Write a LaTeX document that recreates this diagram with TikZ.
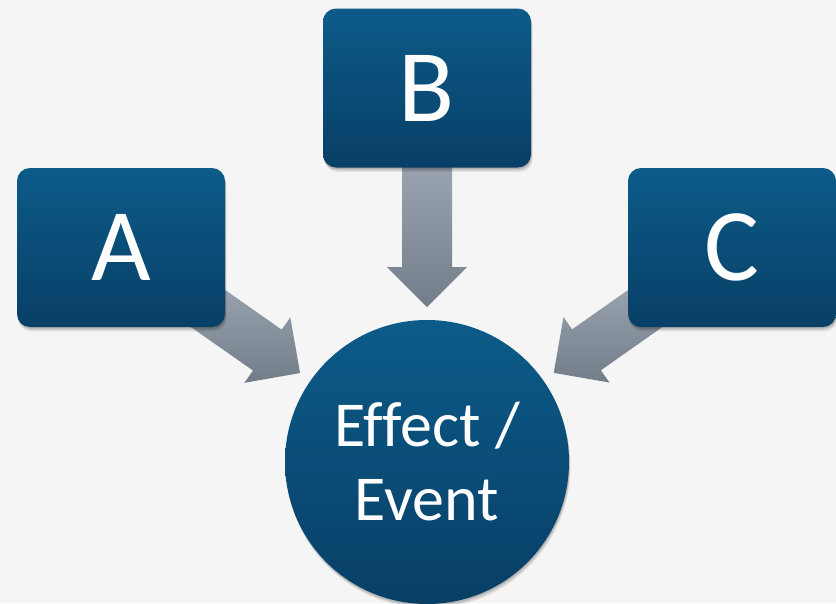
\documentclass[tikz,border=0pt]{standalone}
\usepackage{fontspec}
\setmainfont{Carlito}[Ligatures=NoCommon]
\usetikzlibrary{calc,shadows}
\definecolor{bgcol}{HTML}{F5F5F5}
\definecolor{boxtop}{HTML}{0C5B89}
\definecolor{boxbot}{HTML}{083F66}
\definecolor{arrtop}{HTML}{B0BAC6}
\definecolor{arrbot}{HTML}{737D89}
\pgfdeclarelayer{back}
\pgfsetlayers{back,main}
\tikzset{
  softshadow/.style={
    general shadow={fill=black, opacity=0.07, shadow xshift=1.5pt, shadow yshift=-4.5pt},
    general shadow={fill=black, opacity=0.10, shadow xshift=1pt, shadow yshift=-3pt},
    general shadow={fill=black, opacity=0.12, shadow xshift=0.5pt, shadow yshift=-1.5pt}},
  causebox/.style={rectangle, rounded corners=13pt, minimum width=208pt, minimum height=159pt,
    inner sep=0pt, top color=boxtop, bottom color=boxbot, text=white,
    font=\fontsize{103}{103}\selectfont, softshadow},
  effectcircle/.style={circle, minimum size=284pt, inner sep=0pt,
    top color=boxtop, bottom color=boxbot, softshadow},
  effecttext/.style={text=white, align=center, font=\fontsize{64}{74}\selectfont, inner sep=0pt},
  arrowfill/.style={top color=arrtop, bottom color=arrbot, draw=none}
}
\newcommand\fatarrow[2]{%
  \coordinate (hb) at ($(#2)!40pt!(#1)$);
  \path[arrowfill] ($(#1)!25pt!90:(#2)$) -- ($(hb)!25pt!90:(#2)$) -- ($(hb)!40pt!90:(#2)$)
    -- (#2) -- ($(hb)!40pt!-90:(#2)$) -- ($(hb)!25pt!-90:(#2)$) -- ($(#1)!25pt!-90:(#2)$) -- cycle;}
\begin{document}
\begin{tikzpicture}[x=1pt,y=-1pt]
\begin{pgfonlayer}{back}
  \fill[bgcol] (0,0) rectangle (836,603);
\end{pgfonlayer}
\useasboundingbox (0,0) rectangle (836,603);
\node[causebox] (A) at (121,247.5) {A};
\node[causebox] (B) at (427,88) {B};
\node[causebox] (C) at (732,247.5) {C};
\node[effectcircle] (E) at (427,462) {};
\node[effecttext] (Et) at (427,462) {Effect /\\Event};
\coordinate (tA) at ($(E.center)!155pt!(A.center)$);
\coordinate (tB) at ($(E.center)!155pt!(B.center)$);
\coordinate (tC) at ($(E.center)!155pt!(C.center)$);
\begin{pgfonlayer}{back}
  \fatarrow{A.center}{tA}
  \fatarrow{B.center}{tB}
  \fatarrow{C.center}{tC}
\end{pgfonlayer}
\end{tikzpicture}
\end{document}
